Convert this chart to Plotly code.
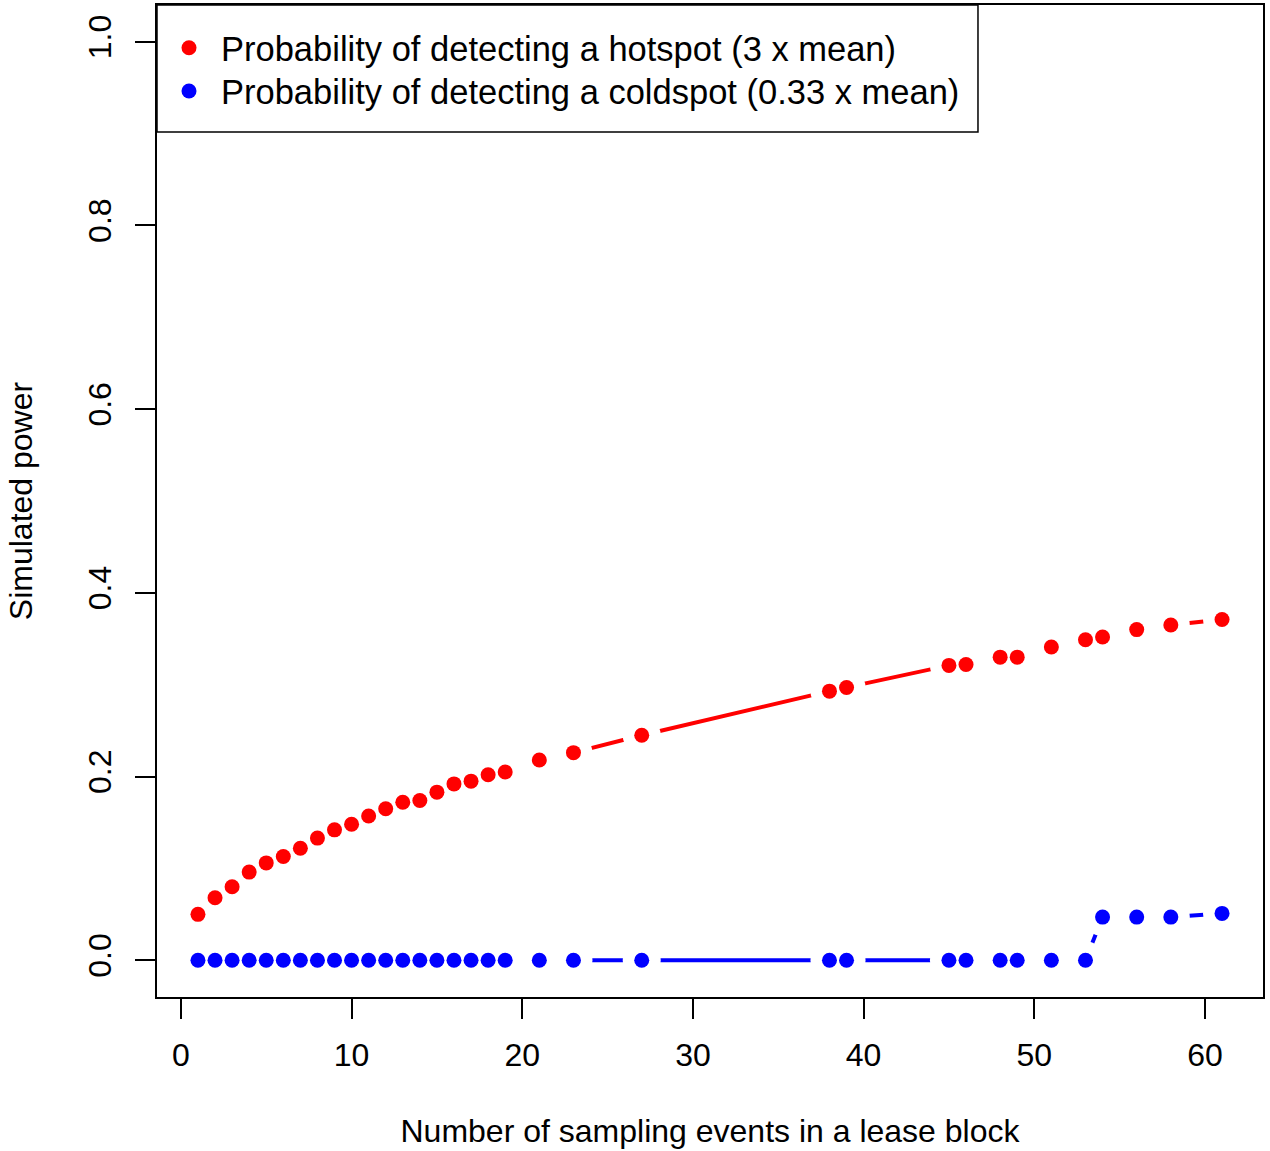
import plotly.graph_objects as go

# number of sampling events
events = list(range(1, 20)) + [21, 23, 27, 38, 39, 45, 46, 48, 49, 51, 53, 54, 56, 58, 61]

hotspot = [0.050, 0.068, 0.080, 0.096, 0.106, 0.113, 0.122, 0.133, 0.142, 0.148,
           0.157, 0.165, 0.172, 0.174, 0.183, 0.192, 0.195, 0.202, 0.205,
           0.218, 0.226, 0.245, 0.293, 0.297, 0.321, 0.322, 0.330, 0.330,
           0.341, 0.349, 0.352, 0.360, 0.365, 0.371]

coldspot = [0.0] * 30 + [0.047, 0.047, 0.047, 0.051]

series = [
    ('Probability of detecting a hotspot (3 x mean)', hotspot, 'red', 'legend'),
    ('Probability of detecting a coldspot (0.33 x mean)', coldspot, 'blue', 'legend2'),
]

FONT = 'Liberation Sans, Arial, sans-serif'

fig = go.Figure()

# lines first, then white discs to cut the gaps around points (R type="b")
for name, vals, col, lg in series:
    fig.add_trace(go.Scatter(x=events, y=vals, mode='lines',
                             line=dict(color=col, width=4),
                             showlegend=False, hoverinfo='skip'))
for name, vals, col, lg in series:
    fig.add_trace(go.Scatter(x=events, y=vals, mode='markers',
                             marker=dict(color='white', size=38),
                             showlegend=False, hoverinfo='skip'))
for name, vals, col, lg in series:
    fig.add_trace(go.Scatter(x=events, y=vals, mode='markers', name=name,
                             marker=dict(color=col, size=15), legend=lg))

# legend box drawn as a shape so it gets R's padding
fig.add_shape(type='rect', xref='paper', yref='paper',
              x0=0, x1=0.7423, y0=0.872, y1=1,
              line=dict(color='black', width=1.5), fillcolor='white', layer='below')

legend_style = dict(x=0.0, xanchor='left', yanchor='top',
                    borderwidth=0, bgcolor='rgba(0,0,0,0)',
                    itemwidth=54, font=dict(size=34.5))

fig.update_layout(
    width=1270, height=1151,
    margin=dict(l=157, r=7, t=5, b=154),
    plot_bgcolor='white', paper_bgcolor='white',
    font=dict(family=FONT, size=32, color='black'),
    legend=dict(y=0.986, **legend_style),
    legend2=dict(y=0.9425, **legend_style),
)
fig.update_xaxes(range=[-1.4, 63.4], tickvals=[0, 10, 20, 30, 40, 50, 60],
                 ticks='outside', ticklen=20, tickwidth=1.5, tickcolor='black',
                 ticklabelstandoff=9, automargin=False,
                 showgrid=False, zeroline=False,
                 showline=True, linecolor='black', linewidth=1.5, mirror=True,
                 title=dict(text='Number of sampling events in a lease block',
                            font=dict(size=32), standoff=47))
fig.update_yaxes(range=[-0.04, 1.04], tickvals=[0, 0.2, 0.4, 0.6, 0.8, 1.0],
                 tickformat='.1f', tickangle=-90,
                 ticks='outside', ticklen=20, tickwidth=1.5, tickcolor='black',
                 ticklabelstandoff=11, automargin=False,
                 showgrid=False, zeroline=False,
                 showline=True, linecolor='black', linewidth=1.5, mirror=True,
                 title=dict(text='Simulated power', font=dict(size=32), standoff=40))

# drop the page's default body margin so the figure sits at the window origin
fig.write_html('out.html', config={'displayModeBar': False},
               post_script="document.body.style.margin='0';")
